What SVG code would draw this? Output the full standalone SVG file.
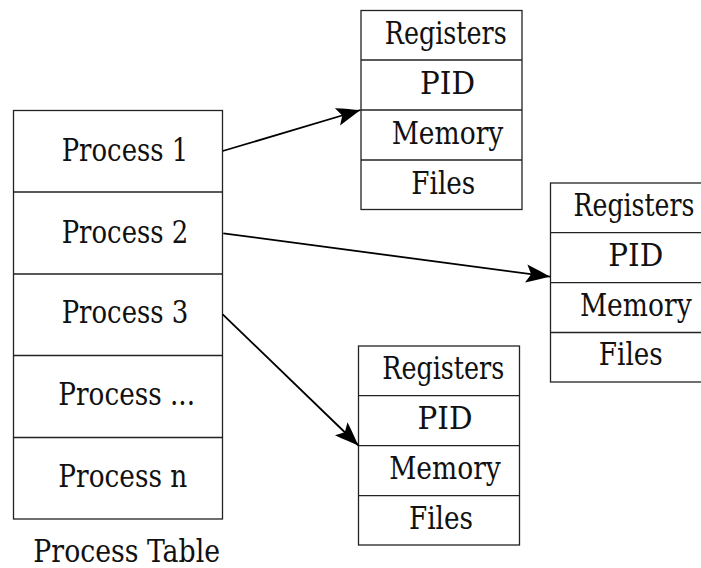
<svg xmlns="http://www.w3.org/2000/svg" width="701" height="568" viewBox="0 0 701 568">
<defs>
<style>
.box{fill:#fff;stroke:#222;stroke-width:1.3}
.div{stroke:#222;stroke-width:1.3}
.t{font-family:"DejaVu Serif Condensed","DejaVu Serif",serif;font-stretch:condensed;font-size:31px;fill:#111;text-anchor:middle}
.conn{stroke:#000;stroke-width:1.8;fill:none;marker-end:url(#ah)}
</style>
<marker id="ah" markerUnits="userSpaceOnUse" markerWidth="30" markerHeight="30" refX="0" refY="0" orient="auto" overflow="visible">
<path d="M0,0 C-7,-2.5 -15,-6 -24,-9 L-19,0 L-24,9 C-15,6 -7,2.5 0,0 Z" fill="#000"/>
</marker>
</defs>
<rect width="701" height="568" fill="#fff"/>
<g id="process-table">
<rect class="box" x="13.5" y="110.5" width="209" height="408.5"/>
<line class="div" x1="13.5" y1="192" x2="222.5" y2="192"/>
<line class="div" x1="13.5" y1="274" x2="222.5" y2="274"/>
<line class="div" x1="13.5" y1="355.5" x2="222.5" y2="355.5"/>
<line class="div" x1="13.5" y1="437.5" x2="222.5" y2="437.5"/>
<text class="t" x="125" y="161" textLength="126.7" lengthAdjust="spacingAndGlyphs">Process 1</text>
<text class="t" x="125" y="243" textLength="126.7" lengthAdjust="spacingAndGlyphs">Process 2</text>
<text class="t" x="125" y="323" textLength="126.7" lengthAdjust="spacingAndGlyphs">Process 3</text>
<text class="t" x="126.7" y="405" textLength="136.7" lengthAdjust="spacingAndGlyphs">Process ...</text>
<text class="t" x="122.8" y="486.7" textLength="129" lengthAdjust="spacingAndGlyphs">Process n</text>
<text class="t" x="126.7" y="561.7" textLength="186.7" lengthAdjust="spacingAndGlyphs">Process Table</text>
</g>
<g id="pcb1">
<rect class="box" x="361" y="10.5" width="161" height="199"/>
<line class="div" x1="361" y1="60" x2="522" y2="60"/>
<line class="div" x1="361" y1="110" x2="522" y2="110"/>
<line class="div" x1="361" y1="160" x2="522" y2="160"/>
<text class="t" x="445.8" y="43.5" textLength="122" lengthAdjust="spacingAndGlyphs">Registers</text>
<text class="t" x="447.5" y="93.5" textLength="55" lengthAdjust="spacingAndGlyphs">PID</text>
<text class="t" x="447.5" y="143.5" textLength="111.7" lengthAdjust="spacingAndGlyphs">Memory</text>
<text class="t" x="443.3" y="193.5" textLength="64" lengthAdjust="spacingAndGlyphs">Files</text>
</g>
<g id="pcb2">
<rect class="box" x="550.5" y="183" width="161" height="199"/>
<line class="div" x1="550.5" y1="232.7" x2="711" y2="232.7"/>
<line class="div" x1="550.5" y1="282.7" x2="711" y2="282.7"/>
<line class="div" x1="550.5" y1="332.5" x2="711" y2="332.5"/>
<text class="t" x="634" y="215.5" textLength="121" lengthAdjust="spacingAndGlyphs">Registers</text>
<text class="t" x="635.8" y="265.5" textLength="55" lengthAdjust="spacingAndGlyphs">PID</text>
<text class="t" x="635.8" y="315.5" textLength="111.7" lengthAdjust="spacingAndGlyphs">Memory</text>
<text class="t" x="630.8" y="365" textLength="64" lengthAdjust="spacingAndGlyphs">Files</text>
</g>
<g id="pcb3">
<rect class="box" x="358.5" y="346" width="161" height="199"/>
<line class="div" x1="358.5" y1="395.7" x2="519.5" y2="395.7"/>
<line class="div" x1="358.5" y1="445.7" x2="519.5" y2="445.7"/>
<line class="div" x1="358.5" y1="495.7" x2="519.5" y2="495.7"/>
<text class="t" x="443.3" y="379" textLength="122" lengthAdjust="spacingAndGlyphs">Registers</text>
<text class="t" x="445" y="429" textLength="55" lengthAdjust="spacingAndGlyphs">PID</text>
<text class="t" x="445" y="479" textLength="111.7" lengthAdjust="spacingAndGlyphs">Memory</text>
<text class="t" x="441" y="529" textLength="64" lengthAdjust="spacingAndGlyphs">Files</text>
</g>
<g id="connectors">
<line class="conn" x1="222.7" y1="151" x2="360.5" y2="110"/>
<line class="conn" x1="223.3" y1="233.3" x2="550" y2="276.7"/>
<line class="conn" x1="222.7" y1="314.3" x2="358.5" y2="445.5"/>
</g>
</svg>
